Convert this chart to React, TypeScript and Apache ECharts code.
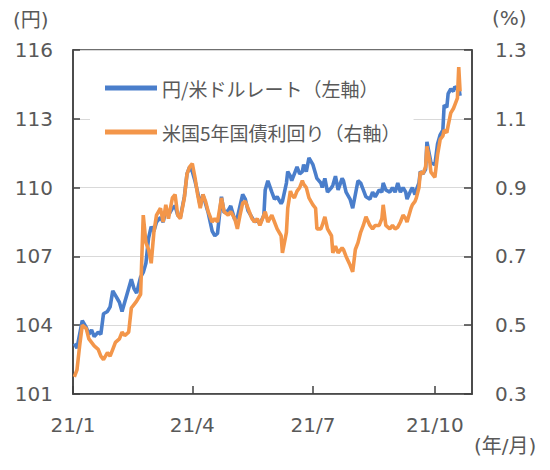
import React, { useEffect, useRef } from "react";
import * as echarts from "echarts";

const dates = [
  "2021-01-02","2021-01-04","2021-01-06","2021-01-08","2021-01-11","2021-01-13","2021-01-15","2021-01-17","2021-01-20","2021-01-22",
  "2021-01-24","2021-01-27","2021-01-29","2021-01-31","2021-02-02","2021-02-05","2021-02-07","2021-02-09","2021-02-12","2021-02-14",
  "2021-02-16","2021-02-18","2021-02-21","2021-02-23","2021-02-25","2021-02-27","2021-03-01","2021-03-03","2021-03-05","2021-03-08",
  "2021-03-10","2021-03-12","2021-03-14","2021-03-17","2021-03-19","2021-03-21","2021-03-23","2021-03-26","2021-03-28","2021-03-30",
  "2021-04-01","2021-04-03","2021-04-05","2021-04-07","2021-04-09","2021-04-11","2021-04-13","2021-04-16","2021-04-18","2021-04-20",
  "2021-04-23","2021-04-25","2021-04-28","2021-04-30","2021-05-03","2021-05-05","2021-05-07","2021-05-09","2021-05-11","2021-05-13",
  "2021-05-16","2021-05-18","2021-05-20","2021-05-22","2021-05-25","2021-05-26","2021-05-28","2021-05-31","2021-06-02","2021-06-04",
  "2021-06-07","2021-06-08","2021-06-11","2021-06-12","2021-06-14","2021-06-15","2021-06-17","2021-06-19","2021-06-21","2021-06-23",
  "2021-06-24","2021-06-26","2021-06-28","2021-07-01","2021-07-03","2021-07-04","2021-07-07","2021-07-08","2021-07-10","2021-07-12",
  "2021-07-15","2021-07-16","2021-07-18","2021-07-20","2021-07-23","2021-07-24","2021-07-26","2021-07-29","2021-07-31","2021-08-02",
  "2021-08-04","2021-08-06","2021-08-08","2021-08-10","2021-08-13","2021-08-15","2021-08-17","2021-08-20","2021-08-22","2021-08-23",
  "2021-08-25","2021-08-28","2021-08-30","2021-09-01","2021-09-03","2021-09-05","2021-09-07","2021-09-09","2021-09-10","2021-09-13",
  "2021-09-14","2021-09-16","2021-09-17","2021-09-19","2021-09-20","2021-09-22","2021-09-24","2021-09-25","2021-09-27","2021-09-28",
  "2021-10-01","2021-10-03","2021-10-05","2021-10-07","2021-10-08","2021-10-10","2021-10-11","2021-10-13","2021-10-15","2021-10-16",
  "2021-10-18","2021-10-19","2021-10-20",
];

const usdJpy = [
  103.2,103.0,103.6,104.2,103.9,103.6,103.8,103.5,103.7,103.6,
  104.5,104.6,104.8,105.5,105.3,105.0,104.6,105.0,105.6,106.0,
  105.6,105.4,106.1,106.3,106.7,107.8,108.3,108.1,108.5,108.7,
  108.5,109.0,108.8,109.1,109.2,108.8,108.7,109.6,110.6,110.9,
  110.7,110.3,109.8,109.2,109.7,109.3,108.9,108.1,107.9,108.0,
  109.6,108.9,109.0,109.2,108.6,108.7,109.2,109.7,109.5,109.0,
  108.7,108.5,108.6,108.4,108.8,109.9,110.3,109.8,109.5,109.6,
  109.3,109.4,110.2,110.7,110.5,110.3,110.6,110.9,110.6,110.7,
  111.0,110.7,111.3,111.0,110.6,110.4,110.2,110.0,110.4,109.8,
  110.0,110.1,110.5,109.9,110.4,110.3,109.8,109.5,109.1,109.7,
  110.3,110.2,109.9,109.6,109.5,109.8,109.6,109.9,109.8,110.2,
  109.9,109.8,110.0,109.8,110.2,109.8,110.0,109.8,109.5,109.9,
  110.0,109.7,109.9,110.2,110.7,110.6,110.8,112.0,111.4,111.1,
  111.0,111.9,112.3,112.5,113.6,113.5,114.1,114.3,114.2,114.4,
  114.3,114.4,114.0,
];

const yield5y = [
  0.35,0.37,0.44,0.50,0.49,0.46,0.45,0.44,0.43,0.41,
  0.40,0.42,0.41,0.43,0.45,0.46,0.48,0.47,0.48,0.55,
  0.56,0.57,0.59,0.82,0.74,0.72,0.68,0.77,0.82,0.84,
  0.80,0.85,0.81,0.87,0.88,0.82,0.81,0.87,0.94,0.96,
  0.97,0.93,0.88,0.84,0.88,0.86,0.83,0.80,0.81,0.80,
  0.87,0.83,0.82,0.83,0.81,0.78,0.82,0.855,0.86,0.84,
  0.81,0.80,0.81,0.79,0.82,0.83,0.80,0.82,0.80,0.78,
  0.76,0.71,0.77,0.84,0.89,0.88,0.87,0.89,0.90,0.92,
  0.91,0.90,0.87,0.85,0.84,0.78,0.78,0.79,0.815,0.78,
  0.76,0.71,0.73,0.71,0.725,0.72,0.70,0.675,0.655,0.72,
  0.74,0.77,0.79,0.815,0.79,0.78,0.79,0.79,0.81,0.85,
  0.79,0.78,0.79,0.78,0.785,0.80,0.82,0.81,0.80,0.84,
  0.85,0.86,0.87,0.90,0.945,0.94,0.96,1.02,0.98,0.945,
  0.93,0.995,1.04,1.05,1.067,1.06,1.08,1.117,1.13,1.14,
  1.16,1.25,1.18,
];

const seriesNames = ["円/米ドルレート（左軸）", "米国5年国債利回り（右軸）"];
const leftTicks = [101, 104, 107, 110, 113, 116];
const rightTicks = [0.3, 0.5, 0.7, 0.9, 1.1, 1.3];
const xTickDates = ["2021-01-01", "2021-04-01", "2021-07-01", "2021-10-01"];
const xTickLabels = ["21/1", "21/4", "21/7", "21/10"];
const xRange = ["2021-01-01", "2021-10-29"];
const unitLeft = "(円)";
const unitRight = "(%)";
const unitX = "(年/月)";

function ts(s: string): number {
  const [y, m, d] = s.split("-").map(Number);
  return Date.UTC(y, m - 1, d);
}

const FONT = "'DejaVu Sans', 'Noto Sans CJK JP', sans-serif";
const LABEL_COLOR = "#595959";
const AXIS_COLOR = "#404040";
const BLUE = "#4A7ECB";
const ORANGE = "#F3964A";

export default function App() {
  const ref = useRef<HTMLDivElement>(null);
  useEffect(() => {
    if (!ref.current) return;
    const chart = echarts.init(ref.current, undefined, { renderer: "svg" });
    const xTickTs = xTickDates.map(ts);
    const axisLabelBase = { color: LABEL_COLOR, fontSize: 20, fontFamily: FONT };
    chart.setOption({
      animation: false,
      backgroundColor: "#fff",
      grid: {
        left: 73,
        right: 78,
        top: 50,
        bottom: 76,
        show: true,
        borderColor: AXIS_COLOR,
        borderWidth: 1.5,
        backgroundColor: "transparent",
        outerBoundsMode: "none",
      },
      legend: {
        orient: "vertical",
        left: 90,
        top: 62,
        padding: [15, 13, 8, 15],
        backgroundColor: "#fff",
        icon: "rect",
        itemWidth: 52,
        itemHeight: 5,
        itemGap: 22,
        textStyle: { fontSize: 19, color: LABEL_COLOR, fontFamily: "'Noto Sans CJK JP', sans-serif", lineHeight: 22 },
        data: seriesNames,
      },
      xAxis: {
        type: "value",
        min: ts(xRange[0]),
        max: ts(xRange[1]),
        axisLine: { show: true, lineStyle: { color: AXIS_COLOR, width: 1.5 } },
        axisTick: { show: true, inside: true, length: 8, lineStyle: { color: AXIS_COLOR, width: 1.5 }, customValues: xTickTs },
        axisLabel: {
          ...axisLabelBase,
          margin: 21,
          customValues: xTickTs,
          formatter: (v: number) => {
            const i = xTickTs.indexOf(v);
            return i >= 0 ? xTickLabels[i] : "";
          },
        },
        splitLine: { show: false },
      },
      yAxis: [
        {
          type: "value",
          position: "left",
          min: leftTicks[0],
          max: leftTicks[leftTicks.length - 1],
          axisLine: { show: true, lineStyle: { color: AXIS_COLOR, width: 1.5 } },
          axisTick: { show: true, inside: true, length: 7, lineStyle: { color: AXIS_COLOR, width: 1.5 }, customValues: leftTicks },
          axisLabel: { ...axisLabelBase, margin: 20, customValues: leftTicks, formatter: (v: number) => String(v) },
          splitLine: { show: true, lineStyle: { color: "#D9D9D9", width: 1.2 } },
        },
        {
          type: "value",
          position: "right",
          min: rightTicks[0],
          max: rightTicks[rightTicks.length - 1],
          axisLine: { show: true, lineStyle: { color: AXIS_COLOR, width: 1.5 } },
          axisTick: { show: true, inside: true, length: 8, lineStyle: { color: AXIS_COLOR, width: 1.5 }, customValues: rightTicks },
          axisLabel: { ...axisLabelBase, margin: 23, customValues: rightTicks, formatter: (v: number) => v.toFixed(1) },
          splitLine: { show: false },
        },
      ],
      series: [
        {
          name: seriesNames[0],
          type: "line",
          yAxisIndex: 0,
          symbol: "none",
          showSymbol: false,
          lineStyle: { color: BLUE, width: 3.6 },
          itemStyle: { color: BLUE },
          data: dates.map((d, i) => [ts(d), usdJpy[i]]),
        },
        {
          name: seriesNames[1],
          type: "line",
          yAxisIndex: 1,
          symbol: "none",
          showSymbol: false,
          lineStyle: { color: ORANGE, width: 3.6 },
          itemStyle: { color: ORANGE },
          data: dates.map((d, i) => [ts(d), yield5y[i]]),
        },
      ],
      graphic: [
        { type: "text", left: 13, top: 10, style: { text: unitLeft, fontSize: 20, fill: LABEL_COLOR, fontFamily: FONT } },
        { type: "text", left: 492, top: 8, style: { text: unitRight, fontSize: 20, fill: LABEL_COLOR, fontFamily: FONT } },
        { type: "text", left: 474, top: 436, style: { text: unitX, fontSize: 20, fill: LABEL_COLOR, fontFamily: FONT } },
      ],
    });
    return () => chart.dispose();
  }, []);
  return <div ref={ref} style={{ position: "absolute", left: 0, top: 0, width: 550, height: 470 }} />;
}
